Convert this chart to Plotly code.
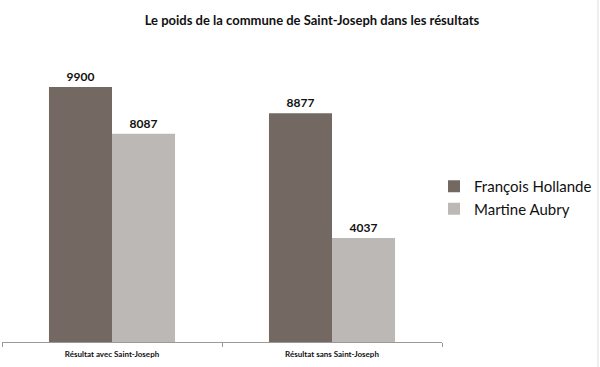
import plotly.graph_objects as go

categories = ["Résultat avec Saint-Joseph", "Résultat sans Saint-Joseph"]
hollande = [9900, 8877]
aubry = [8087, 4037]
series_names = ["François Hollande", "Martine Aubry"]

FONT = "Lato"
W, H = 600, 367

fig = go.Figure()
fig.add_trace(go.Bar(x=categories, y=hollande, name=series_names[0],
                     marker=dict(color="#736862", line=dict(width=0)),
                     text=[str(v) for v in hollande], textposition="outside",
                     textfont=dict(size=12, color="#111", family=FONT, weight="bold"),
                     cliponaxis=False))
fig.add_trace(go.Bar(x=categories, y=aubry, name=series_names[1],
                     marker=dict(color="#bcb8b5", line=dict(width=0)),
                     text=[str(v) for v in aubry], textposition="outside",
                     textfont=dict(size=12, color="#111", family=FONT, weight="bold"),
                     cliponaxis=False))

fig.update_layout(
    width=W, height=H,
    margin=dict(l=0, r=0, t=0, b=0, autoexpand=False),
    paper_bgcolor="white", plot_bgcolor="white",
    barmode="group", bargap=0.427, bargroupgap=0,
    title=dict(text="<b>Le poids de la commune de Saint-Joseph dans les résultats</b>",
               x=312 / W, xanchor="center", y=1 - 20 / H, yanchor="middle",
               font=dict(size=13, color="#111", family=FONT)),
    legend=dict(x=434 / W, xanchor="left", y=1 - 170 / H, yanchor="top",
                font=dict(size=15, color="#111", family=FONT),
                itemwidth=30, bgcolor="rgba(0,0,0,0)"),
    showlegend=True,
    font=dict(family=FONT),
)
fig.update_xaxes(domain=[2 / W, 442 / W], automargin=False,
                 showline=True, linecolor="#999", linewidth=1,
                 ticks="outside", tickson="boundaries", ticklen=4, tickcolor="#999",
                 ticklabelstandoff=4,
                 tickfont=dict(size=8, color="#111", family=FONT, weight="bold"),
                 range=[-0.5, 1.5])
fig.update_yaxes(domain=[1 - 342 / H, 1 - 40 / H], automargin=False,
                 visible=False, range=[0, 11725])
fig.add_shape(type="line", xref="paper", yref="paper", x0=598 / W, x1=598 / W,
              y0=0, y1=1, line=dict(color="#dddddd", width=1))

fig.write_html("out.html", config={"displayModeBar": False},
               post_script="document.body.style.margin='0';")
